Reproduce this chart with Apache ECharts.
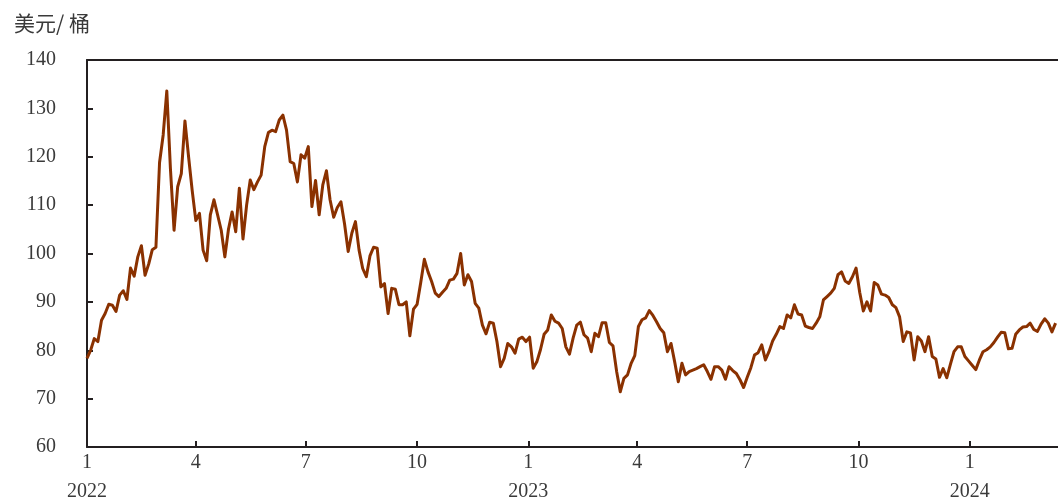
<!DOCTYPE html>
<html>
<head>
<meta charset="utf-8">
<title>美元/桶</title>
<script src="https://cdn.jsdelivr.net/npm/echarts@6/dist/echarts.min.js"></script>
<style>
html, body { margin: 0; padding: 0; background: #fff; }
#chart { width: 1058px; height: 501px; }
</style>
</head>
<body>
<div id="chart"></div>
<script>
// 单位
var unitName = '美元/ 桶';
// 起始日期, 每3天取一个点
var startDate = '2022-01-01';
var stepDays = 3;
var endDays = 803;
// 横轴刻度(季度初)
var tickDates = ['2022-01-01', '2022-04-01', '2022-07-01', '2022-10-01',
                 '2023-01-01', '2023-04-01', '2023-07-01', '2023-10-01', '2024-01-01'];
// 纵轴
var yMin = 60, yMax = 140, yStep = 10;

// 价格
var price2022 = [
  78.3, 80.0, 82.4, 81.8, 86.2, 87.6, 89.5, 89.3, 88.0, 91.4,
  92.3, 90.5, 97.0, 95.3, 99.3, 101.6, 95.5, 97.8, 100.8, 101.3,
  118.8, 124.5, 133.6, 117.5, 104.8, 113.8, 116.5, 127.4, 120.0, 113.0,
  106.8, 108.3, 100.7, 98.5, 108.0, 111.1, 108.0, 104.8, 99.3, 105.0,
  108.6, 104.5, 113.5, 103.0, 110.0, 115.2, 113.2, 114.8, 116.2, 122.1,
  125.0, 125.5, 125.2, 127.6, 128.6, 125.5, 119.0, 118.6, 114.8, 120.4,
  119.7, 122.1, 109.7, 115.1, 108.0, 114.2, 117.1, 111.1, 107.5, 109.5,
  110.7, 106.1, 100.4, 104.2, 106.6, 100.7, 96.9, 95.2, 99.5, 101.3,
  101.1, 93.1, 93.8, 87.6, 92.8, 92.6, 89.4, 89.4, 90.0, 83.0,
  88.5, 89.5, 94.0, 98.8, 96.2, 94.2, 91.8, 91.1, 92.0, 92.8,
  94.5, 94.7, 95.9, 100.0, 93.5, 95.6, 94.2, 89.7, 88.7, 85.2,
  83.4, 85.8, 85.6, 81.8, 76.6, 78.3, 81.4, 80.7, 79.4, 82.3,
  82.7, 81.8
];
var price2023 = [
  82.7, 76.3, 77.6, 80.1, 83.3, 84.2, 87.3, 86.0, 85.6, 84.5,
  80.7, 79.2, 82.5, 85.2, 85.8, 83.2, 82.5, 79.7, 83.5, 82.8,
  85.7, 85.7, 81.6, 80.9, 75.6, 71.4, 74.2, 74.9, 77.3, 78.9,
  84.9, 86.3, 86.7, 88.2, 87.2, 85.9, 84.5, 83.6, 79.7, 81.4,
  77.6, 73.5, 77.3, 74.9, 75.6, 75.9, 76.2, 76.6, 77.0, 75.6,
  74.0, 76.6, 76.6, 75.9, 74.0, 76.6, 75.8, 75.2, 73.9, 72.3,
  74.4, 76.4, 79.0, 79.5, 81.1, 78.0, 79.7, 81.9, 83.3, 84.9,
  84.5, 87.3, 86.7, 89.4, 87.5, 87.3, 85.0, 84.7, 84.5, 85.6,
  86.9, 90.4, 91.1, 91.8, 92.8, 95.6, 96.2, 94.3, 93.8, 95.2,
  97.0, 92.0, 88.1, 90.0, 88.1, 94.0, 93.5, 91.6, 91.4, 90.9,
  89.4, 88.8, 86.9, 81.8, 83.8, 83.6, 78.0, 82.8, 81.9, 79.7,
  82.8, 78.7, 78.2, 74.4, 76.2, 74.3, 77.1, 79.7, 80.7, 80.7,
  78.7, 77.8
];
var price2024 = [
  76.9, 76.0, 78.0, 79.7, 80.1, 80.7, 81.6, 82.7, 83.7, 83.6,
  80.3, 80.4, 83.3, 84.2, 84.8, 84.9, 85.6, 84.3, 83.9, 85.4,
  86.5, 85.6, 83.8, 85.6
];

var dayMs = 24 * 3600 * 1000;
function toDays(s) {
  var p = s.split('-');
  return Math.round((Date.UTC(+p[0], +p[1] - 1, +p[2]) - Date.UTC(2022, 0, 1)) / dayMs);
}
var base = toDays(startDate);
var ticks = tickDates.map(toDays);

var prices = price2022.concat(price2023, price2024);
var seriesData = [];
for (var i = 0; i < prices.length; i++) {
  seriesData.push([base + i * stepDays, prices[i]]);
}

var serif = '"Liberation Serif", "DejaVu Serif", serif';
var axisColor = '#231f20';
var textColor = '#3a3a3a';

var chart = echarts.init(document.getElementById('chart'));
var option = {
  animation: false,
  backgroundColor: '#fff',
  title: {
    text: unitName,
    left: 9,
    top: 8,
    textStyle: {
      fontFamily: '"Noto Sans CJK SC"',
      fontSize: 21,
      fontWeight: 'normal',
      color: textColor
    }
  },
  grid: {
    left: 87,
    right: 0,
    top: 60,
    bottom: 54,
    containLabel: false,
    outerBoundsMode: 'none'
  },
  xAxis: [{
    type: 'value',
    min: 0,
    max: endDays,
    axisLine: { show: true, onZero: false, lineStyle: { color: axisColor, width: 2 } },
    axisTick: { show: true, inside: true, length: 6, customValues: ticks, lineStyle: { color: axisColor, width: 2 } },
    splitLine: { show: false },
    axisLabel: {
      customValues: ticks,
      margin: 1,
      fontFamily: serif,
      fontSize: 20,
      lineHeight: 29,
      color: textColor,
      formatter: function (v) {
        var d = new Date(Date.UTC(2022, 0, 1) + v * dayMs);
        var m = d.getUTCMonth() + 1;
        return m === 1 ? m + '\n' + d.getUTCFullYear() : String(m);
      }
    }
  }, {
    type: 'value',
    position: 'top',
    min: 0,
    max: endDays,
    axisLine: { show: true, lineStyle: { color: axisColor, width: 2 } },
    axisTick: { show: false },
    axisLabel: { show: false },
    splitLine: { show: false }
  }],
  yAxis: {
    type: 'value',
    min: yMin,
    max: yMax,
    interval: yStep,
    axisLine: { show: true, lineStyle: { color: axisColor, width: 2 } },
    axisTick: { show: true, inside: true, length: 6, lineStyle: { color: axisColor, width: 2 } },
    splitLine: { show: false },
    axisLabel: {
      margin: 31,
      fontFamily: serif,
      fontSize: 20,
      color: textColor
    }
  },
  series: [{
    type: 'line',
    xAxisIndex: 0,
    data: seriesData,
    showSymbol: false,
    symbol: 'none',
    lineStyle: { color: '#8a3100', width: 3, join: 'round' },
    itemStyle: { color: '#8a3100' }
  }]
};
chart.setOption(option);
</script>
</body>
</html>
